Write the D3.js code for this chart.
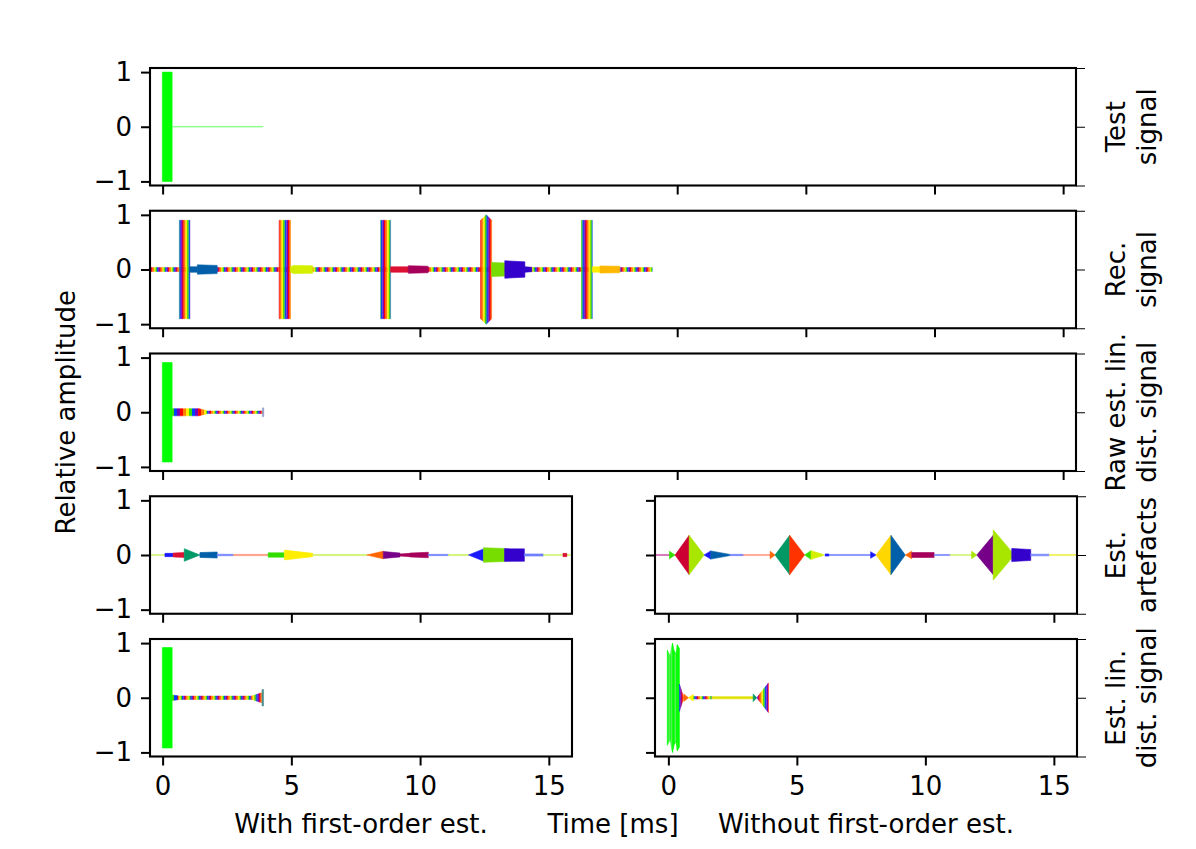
<!DOCTYPE html>
<html>
<head>
<meta charset="utf-8">
<script src="https://cdn.jsdelivr.net/npm/d3@7"></script>
<style>
  body { margin: 0; background: #fff; }
  text { font-family: 'DejaVu Sans', sans-serif; }
</style>
</head>
<body>
<svg id="chart" width="1196" height="849"></svg>
<script>
// ---- data ----
const xTicksWide = [0, 5, 10, 15, 20, 25, 30, 35];
const xTicksNarrow = [0, 5, 10, 15];
const yTicks = [-1, 0, 1];
const rowLabels = [
  ['Test', 'signal'],
  ['Rec.', 'signal'],
  ['Raw est. lin.', 'dist. signal'],
  ['Est.', 'artefacts'],
  ['Est. lin.', 'dist. signal']
];
const columnLabels = ['With first-order est.', 'Without first-order est.'];
const xLabel = 'Time [ms]';
const yLabel = 'Relative amplitude';

// segments: [t start (ms), t end (ms), amplitude at start, amplitude at end, colour key]
const testSignal = [
  [-0.01, 0.37, 1, 1, 'lime'],
  [0.37, 3.9, 0.006, 0.006, 'paleLime']
];

const recSignal = [
  [-0.45, 19.03, 0.035, 0.035, 'dots'],
  [0.65, 1.06, 0.9, 0.9, 'rainbow'],
  [1.06, 1.35, 0.05, 0.05, 'steel'],
  [1.35, 2.12, 0.085, 0.075, 'steel'],
  [4.53, 4.97, 0.9, 0.9, 'rainbow'],
  [4.97, 5.1, 0.05, 0.075, 'lemon'],
  [5.1, 5.83, 0.075, 0.07, 'lemon'],
  [8.47, 8.86, 0.9, 0.9, 'rainbow'],
  [8.86, 9.55, 0.05, 0.05, 'red'],
  [9.55, 10.32, 0.07, 0.06, 'magenta'],
  [12.36, 12.58, 0.9, 1.0, 'rainbow'],
  [12.58, 12.79, 1.0, 0.9, 'rainbow'],
  [12.79, 13.3, 0.13, 0.12, 'chartreuse'],
  [13.3, 14.08, 0.16, 0.14, 'violet'],
  [14.08, 14.35, 0.05, 0.04, 'violet'],
  [16.28, 16.7, 0.9, 0.9, 'rainbow'],
  [16.7, 17.0, 0.05, 0.05, 'yellow'],
  [17.0, 17.77, 0.065, 0.06, 'amber']
];

const rawEstimate = [
  [-0.01, 0.37, 0.91, 0.91, 'lime'],
  [0.37, 1.4, 0.065, 0.065, 'rainbowWide'],
  [1.4, 1.71, 0.065, 0.03, 'rainbowWide'],
  [1.71, 3.9, 0.022, 0.022, 'dots'],
  [3.88, 3.93, 0.08, 0.08, 'capBlue']
];

const artefactsWith = [
  [-0.45, 0.09, 0.01, 0.01, 'lineYG'],
  [0.09, 0.41, 0.03, 0.03, 'blue'],
  [0.41, 0.84, 0.035, 0.045, 'red'],
  [0.84, 1.45, 0.115, 0, 'teal'],
  [1.45, 2.12, 0.045, 0.055, 'steel'],
  [2.12, 2.75, 0.015, 0.012, 'lineBlue'],
  [2.75, 4.1, 0.012, 0.012, 'lineSalmon'],
  [4.1, 4.73, 0.04, 0.04, 'green'],
  [4.73, 5.83, 0.09, 0.03, 'yellow'],
  [5.83, 7.93, 0.012, 0.012, 'lineYG'],
  [7.93, 8.57, 0, 0.07, 'orange'],
  [8.57, 9.22, 0.065, 0.035, 'purple'],
  [9.22, 9.6, 0.02, 0.03, 'magenta'],
  [9.6, 10.32, 0.035, 0.05, 'magenta'],
  [10.32, 11.1, 0.012, 0.012, 'lineBlue'],
  [11.1, 11.88, 0.012, 0.012, 'lineYG'],
  [11.88, 12.46, 0, 0.11, 'blue'],
  [12.46, 13.28, 0.133, 0.12, 'chartreuse'],
  [13.28, 14.05, 0.117, 0.115, 'violet'],
  [14.05, 14.79, 0.02, 0.02, 'lineBlue'],
  [14.79, 15.9, 0.01, 0.01, 'lineYG'],
  [15.55, 15.7, 0.03, 0.03, 'red']
];

const artefactsWithout = [
  [-0.52, 0.04, 0.01, 0.01, 'lineMagenta'],
  [0.04, 0.26, 0.07, 0, 'green'],
  [0.26, 0.81, 0, 0.36, 'crimson'],
  [0.81, 1.39, 0.36, 0, 'yellowgreen'],
  [1.39, 1.65, 0, 0.075, 'blue'],
  [1.65, 2.4, 0.075, 0.01, 'steel'],
  [2.4, 2.92, 0.012, 0.012, 'lineBlue'],
  [2.92, 3.96, 0.01, 0.01, 'lineSalmon'],
  [3.96, 4.15, 0.07, 0, 'orange'],
  [4.15, 4.72, 0, 0.36, 'teal'],
  [4.72, 5.3, 0.36, 0, 'redorange'],
  [5.3, 5.55, 0, 0.08, 'green'],
  [5.55, 6.03, 0.08, 0.01, 'lemon'],
  [6.1, 6.25, 0.02, 0.02, 'blue'],
  [6.25, 7.87, 0.01, 0.01, 'lineBlue'],
  [7.87, 8.08, 0.06, 0, 'blue'],
  [8.08, 8.66, 0, 0.36, 'gold'],
  [8.66, 9.22, 0.36, 0, 'steel'],
  [9.22, 9.47, 0, 0.07, 'orange'],
  [9.47, 10.34, 0.045, 0.045, 'magenta'],
  [10.34, 10.96, 0.01, 0.01, 'lineBlue'],
  [10.96, 11.8, 0.01, 0.01, 'lineYG'],
  [11.8, 12.0, 0.07, 0, 'yellowgreen'],
  [12.0, 12.64, 0, 0.36, 'purple'],
  [12.64, 13.36, 0.46, 0.06, 'yellowgreen'],
  [13.36, 14.1, 0.12, 0.1, 'violet'],
  [14.1, 14.82, 0.015, 0.015, 'lineBlue'],
  [14.82, 15.9, 0.01, 0.01, 'lineYellow']
];

const linDistWith = [
  [-0.01, 0.37, 0.92, 0.92, 'lime'],
  [0.37, 0.6, 0.05, 0.035, 'rainbowWide'],
  [0.6, 3.45, 0.03, 0.03, 'dots'],
  [3.45, 3.85, 0.03, 0.09, 'rainbow'],
  [3.86, 3.92, 0.15, 0.15, 'capTeal']
];

const linDistWithout = [
  [-0.04, 0.07, 0.87, 0.75, 'lime'],
  [0.07, 0.16, 0.75, 1.0, 'lime'],
  [0.16, 0.23, 1.0, 0.85, 'lime'],
  [0.23, 0.3, 0.85, 0.8, 'lime'],
  [0.3, 0.35, 0.8, 0.97, 'lime'],
  [0.35, 0.43, 0.97, 0.9, 'lime'],
  [0.02, 0.04, 0.8, 0.8, 'lightLime'],
  [0.11, 0.13, 0.9, 0.9, 'lightLime'],
  [0.26, 0.28, 0.8, 0.8, 'lightLime'],
  [0.43, 0.6, 0.25, 0, 'rainbow'],
  [0.6, 0.78, 0.07, 0, 'orange'],
  [0.78, 0.97, 0, 0.06, 'yellow'],
  [0.97, 1.69, 0.022, 0.022, 'dots'],
  [1.69, 3.3, 0.02, 0.02, 'lineYellowStrong'],
  [3.3, 3.44, 0.07, 0, 'teal'],
  [3.44, 3.89, 0, 0.27, 'rainbow']
];

const rainbowColours = ['#ff0000', '#ff8000', '#ffee00', '#33dd00', '#0040ff', '#7a00b8'];

const palette = {
  lime: '#00ff00', paleLime: '#77ff77', lightLime: '#66ee66',
  crimson: '#cc0033', teal: '#009966', steel: '#005fa8', blue: '#1a1aff', violet: '#3300cc',
  yellowgreen: '#a8e600', lemon: '#d4f000', chartreuse: '#77dd00', yellow: '#ffee00',
  gold: '#ffd700', amber: '#ffb800', orange: '#ff6600', redorange: '#ff3300',
  purple: '#770088', magenta: '#a6005a', red: '#dd1133', green: '#33dd00',
  lineBlue: '#7080ff', lineSalmon: '#ff9980', lineYG: '#d0f070', lineMagenta: '#cc55aa',
  lineYellow: '#eeee44', lineYellowStrong: '#e0e000', capBlue: '#8899cc', capTeal: '#4d8f8f'
};

// ---- layout ----
const svg = d3.select('#chart');
const rowTop = i => 68 + i * 142.75;
const rowH = 117.5;

const xWide = d3.scaleLinear().domain([-0.49, 35.5]).range([150, 1076]);
const xLeft = d3.scaleLinear().domain([-0.49, 15.9]).range([150, 572]);
const xRight = d3.scaleLinear().domain([-0.52, 15.9]).range([655, 1077]);

const panels = [
  { row: 0, x: xWide, data: testSignal, ticks: xTicksWide, yText: true, twin: true, xText: false },
  { row: 1, x: xWide, data: recSignal, ticks: xTicksWide, yText: true, twin: true, xText: false },
  { row: 2, x: xWide, data: rawEstimate, ticks: xTicksWide, yText: true, twin: true, xText: false },
  { row: 3, x: xLeft, data: artefactsWith, ticks: xTicksNarrow, yText: true, twin: false, xText: false },
  { row: 3, x: xRight, data: artefactsWithout, ticks: xTicksNarrow, yText: false, twin: true, xText: false },
  { row: 4, x: xLeft, data: linDistWith, ticks: xTicksNarrow, yText: true, twin: false, xText: true },
  { row: 4, x: xRight, data: linDistWithout, ticks: xTicksNarrow, yText: false, twin: true, xText: true }
];

// stripe patterns for the multi-coloured stretches
const defs = svg.append('defs');
const patterns = { rainbow: 1.6, rainbowWide: 3, dots: 1.4 };
Object.entries(patterns).forEach(([id, w]) => {
  const p = defs.append('pattern')
    .attr('id', id)
    .attr('patternUnits', 'userSpaceOnUse')
    .attr('width', w * rainbowColours.length)
    .attr('height', 849);
  p.selectAll('rect')
    .data(rainbowColours)
    .join('rect')
    .attr('x', (c, i) => i * w)
    .attr('y', 0)
    .attr('width', w + 0.05)
    .attr('height', 849)
    .attr('fill', c => c);
});
const fillOf = k => patterns[k] ? `url(#${k})` : palette[k];

panels.forEach((pnl, pi) => {
  const top = rowTop(pnl.row);
  const y = d3.scaleLinear().domain([-1.075, 1.075]).range([top + rowH, top]);
  const x = pnl.x;
  const [x0, x1] = x.range();

  defs.append('clipPath').attr('id', 'clip' + pi)
    .append('rect').attr('x', x0).attr('y', top).attr('width', x1 - x0).attr('height', rowH);

  const g = svg.append('g');
  const area = d3.area().x(d => x(d[0])).y0(d => y(-d[1])).y1(d => y(d[1]));

  g.append('g').attr('clip-path', `url(#clip${pi})`)
    .selectAll('path')
    .data(pnl.data)
    .join('path')
    .attr('d', s => area([[s[0], s[2]], [s[1], s[3]]]))
    .attr('fill', s => fillOf(s[4]))
    .attr('stroke', s => fillOf(s[4]))
    .attr('stroke-width', 0.6);

  // left axis
  const yAxis = d3.axisLeft(y).tickValues(yTicks).tickSize(9).tickPadding(9)
    .tickFormat(pnl.yText ? d3.format('d') : '');
  const ya = g.append('g').attr('transform', `translate(${x0},0)`).call(yAxis);

  // bottom axis
  const xAxis = d3.axisBottom(x).tickValues(pnl.ticks).tickSize(9).tickPadding(11)
    .tickFormat(pnl.xText ? d3.format('d') : '');
  const xa = g.append('g').attr('transform', `translate(0,${top + rowH})`).call(xAxis);

  // twin axis on the right carrying the row label
  if (pnl.twin) {
    const yTwin = d3.scaleLinear().domain([0, 1]).range([top + rowH, top]);
    g.append('g').attr('transform', `translate(${x1},0)`)
      .call(d3.axisRight(yTwin).tickValues([0, 0.5, 1]).tickSize(9).tickFormat(''))
      .select('.domain').remove();
  }

  [ya, xa].forEach(a => {
    a.select('.domain').remove();
    a.selectAll('line').attr('stroke', '#000').attr('stroke-width', 2);
    a.selectAll('text').attr('font-size', 26).attr('fill', '#000')
      .style('font-family', "'DejaVu Sans', sans-serif");
  });
  g.append('g').selectAll('.domain').remove();

  g.append('rect')
    .attr('x', x0).attr('y', top).attr('width', x1 - x0).attr('height', rowH)
    .attr('fill', 'none').attr('stroke', '#000').attr('stroke-width', 2.1);
});

// row labels on the right
rowLabels.forEach((lines, i) => {
  const t = svg.append('text')
    .attr('transform', `translate(1125,${rowTop(i) + rowH / 2}) rotate(-90)`)
    .attr('text-anchor', 'middle')
    .attr('font-size', 26)
    .attr('fill', '#000');
  lines.forEach((l, j) => t.append('tspan').attr('x', 0).attr('y', j * 31).text(l));
});

// y label
svg.append('text')
  .attr('transform', `translate(75,${(rowTop(0) + rowTop(4) + rowH) / 2}) rotate(-90)`)
  .attr('text-anchor', 'middle')
  .attr('font-size', 26)
  .text(yLabel);

// bottom labels
const bottomY = 833;
svg.append('text').attr('x', (xLeft.range()[0] + xLeft.range()[1]) / 2).attr('y', bottomY)
  .attr('text-anchor', 'middle').attr('font-size', 26).text(columnLabels[0]);
svg.append('text').attr('x', (xRight.range()[0] + xRight.range()[1]) / 2).attr('y', bottomY)
  .attr('text-anchor', 'middle').attr('font-size', 26).text(columnLabels[1]);
svg.append('text').attr('x', (xWide.range()[0] + xWide.range()[1]) / 2).attr('y', bottomY)
  .attr('text-anchor', 'middle').attr('font-size', 26).text(xLabel);
</script>
</body>
</html>
